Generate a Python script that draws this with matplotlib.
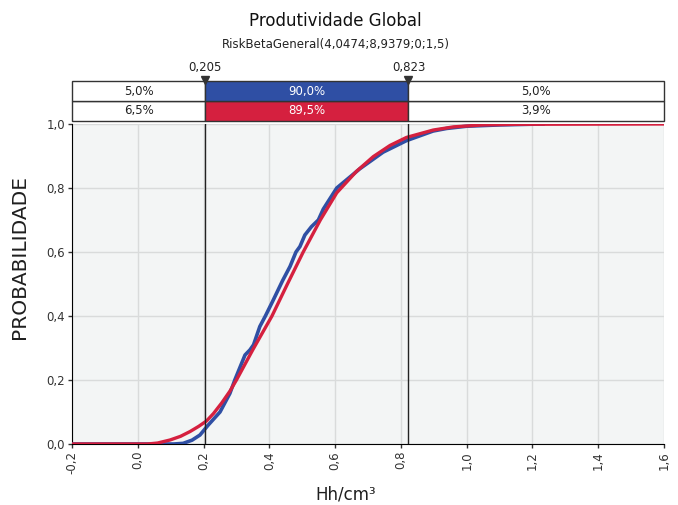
import matplotlib

matplotlib.use("Agg")
import matplotlib.pyplot as plt  # noqa: E402
from matplotlib.patches import Rectangle  # noqa: E402

# curva ajustada (RiskBetaGeneral)
red_x = [-0.2, 0.03, 0.06, 0.098, 0.13, 0.159, 0.185, 0.209, 0.23, 0.255,
         0.28, 0.30, 0.35, 0.408, 0.455, 0.503, 0.555, 0.605, 0.665, 0.716,
         0.767, 0.817, 0.898, 0.96, 1.05, 1.15, 1.6]
red_y = [0.0, 0.0, 0.003, 0.0125, 0.024, 0.039, 0.055, 0.072, 0.095, 0.128,
         0.165, 0.20, 0.295, 0.40, 0.50, 0.60, 0.70, 0.785, 0.852, 0.898,
         0.933, 0.958, 0.981, 0.991, 0.997, 0.999, 1.0]

# curva empírica da simulação
blue_x = [-0.2, 0.11, 0.138, 0.165, 0.189, 0.214, 0.25, 0.28, 0.295, 0.326,
          0.341, 0.352, 0.371, 0.388, 0.412, 0.44, 0.463, 0.481, 0.493,
          0.508, 0.528, 0.549, 0.564, 0.605, 0.675, 0.746, 0.817, 0.898,
          0.939, 1.0, 1.1, 1.232]
blue_y = [0.0, 0.0, 0.002, 0.012, 0.028, 0.059, 0.10, 0.158, 0.20, 0.278,
          0.294, 0.31, 0.367, 0.40, 0.45, 0.51, 0.555, 0.60, 0.617, 0.653,
          0.679, 0.70, 0.734, 0.80, 0.86, 0.912, 0.948, 0.978, 0.986, 0.993,
          0.997, 1.0]

x_ticks = [-0.2, 0.0, 0.2, 0.4, 0.6, 0.8, 1.0, 1.2, 1.4, 1.6]
y_ticks = [0.0, 0.2, 0.4, 0.6, 0.8, 1.0]

lo, hi = 0.205, 0.823
blue_pcts = ["5,0%", "90,0%", "5,0%"]
red_pcts = ["6,5%", "89,5%", "3,9%"]

BLUE = "#2F4FA4"
RED = "#D5203F"


def fmt(v, nd=1):
    return f"{v:.{nd}f}".replace(".", ",")


fig = plt.figure(figsize=(6.78, 5.05), dpi=100)
ax = fig.add_axes([0.1062, 0.1208, 0.8732, 0.6337])
ax.set_facecolor("#F3F5F5")

ax.plot(blue_x, blue_y, color=BLUE, lw=2.6, zorder=3)
ax.plot(red_x, red_y, color=RED, lw=2.4, zorder=4)
ax.axvline(lo, color="#222222", lw=1, zorder=5)
ax.axvline(hi, color="#222222", lw=1, zorder=5)

ax.set_xlim(-0.2, 1.6)
ax.set_ylim(0, 1.0)
ax.set_xticks(x_ticks)
ax.set_xticklabels([fmt(v) for v in x_ticks], rotation=90, fontsize=8.5,
                   color="#333333")
ax.set_yticks(y_ticks)
ax.set_yticklabels([fmt(v) for v in y_ticks], fontsize=8.5, color="#333333")
ax.grid(color="#D9DBDB", lw=1)
ax.set_axisbelow(True)
for s in ["top", "right"]:
    ax.spines[s].set_visible(False)
ax.tick_params(length=3, width=1, color="#333333", pad=2)
ax.set_xlabel("Hh/cm³", fontsize=12, color="#1F1F1F")
ax.xaxis.set_label_coords(0.463, -0.13)
ax.set_ylabel("PROBABILIDADE", fontsize=14.5, color="#1F1F1F")
ax.yaxis.set_label_coords(-0.073, 0.584)

# faixa de percentuais acima do gráfico
band = fig.add_axes([0.1062, 0.7604, 0.8732, 0.0792])
band.set_xlim(-0.2, 1.6)
band.set_ylim(0, 2)
band.axis("off")
edges = [-0.2, lo, hi, 1.6]
for row, (pcts, col) in enumerate([(red_pcts, RED), (blue_pcts, BLUE)]):
    for i in range(3):
        fc = col if i == 1 else "white"
        band.add_patch(Rectangle((edges[i], row), edges[i + 1] - edges[i], 1,
                                 facecolor=fc, edgecolor="#333333", lw=1,
                                 clip_on=False))
        band.text((edges[i] + edges[i + 1]) / 2, row + 0.5, pcts[i],
                  ha="center", va="center", fontsize=8.5,
                  color="white" if i == 1 else "#222222")
for v in (lo, hi):
    band.plot([v], [2.05], marker="v", color="#333333", ms=6, clip_on=False)
    band.text(v, 2.35, fmt(v, 3), ha="center", va="bottom",
              fontsize=8.5, color="#222222")

fig.text(0.494, 0.958, "Produtividade Global", ha="center", va="center",
         fontsize=12, color="#111111")
fig.text(0.496, 0.911, "RiskBetaGeneral(4,0474;8,9379;0;1,5)", ha="center",
         va="center", fontsize=8.5, color="#222222")

fig.savefig("out.png", dpi=100)
